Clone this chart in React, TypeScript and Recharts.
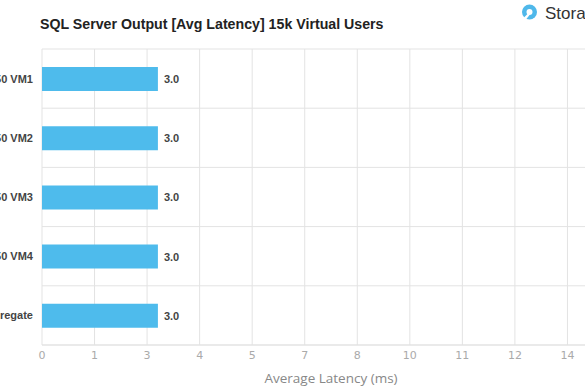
import React from "react";
import { BarChart, Bar, XAxis, YAxis, CartesianGrid, LabelList } from "recharts";

const categories = ["R750 VM1", "R750 VM2", "R750 VM3", "R750 VM4", "Aggregate"];
const latencyMs = [3.0, 3.0, 3.0, 3.0, 3.0];
const xTicks = [0, 1.36, 2.72, 4.08, 5.44, 6.8, 8.16, 9.52, 10.88, 12.24, 13.6, 14.96];
const titleText = "SQL Server Output [Avg Latency] 15k Virtual Users";
const axisTitle = "Average Latency (ms)";
const brandText = "StorageReview";

const data = categories.map((name, i) => ({ name, value: latencyMs[i] }));

const GRID = "#e3e3e3";
const BAR = "#4ebbec";

export default function App() {
  return (
    <div
      style={{
        position: "fixed",
        left: 0,
        top: 0,
        width: 585,
        height: 390,
        overflow: "hidden",
        background: "#ffffff",
      }}
    >
      <div style={{ position: "absolute", left: -60, top: 0 }}>
        <BarChart
          width={700}
          height={390}
          data={data}
          layout="vertical"
          margin={{ top: 49, right: 20, bottom: 0, left: 0 }}
          barSize={24}
        >
          <CartesianGrid
            stroke={GRID}
            strokeWidth={1}
            horizontalCoordinatesGenerator={({ offset }: any) =>
              categories
                .map((_, i) => offset.top + (i * offset.height) / categories.length)
                .concat([offset.top + offset.height])
            }
          />
          <XAxis
            type="number"
            domain={[0, xTicks[xTicks.length - 1]]}
            ticks={xTicks}
            tickFormatter={(v: number) => String(Math.round(v))}
            tickLine={false}
            axisLine={{ stroke: GRID }}
            tickMargin={0}
            height={45}
            interval={0}
            tick={{ fill: "#aaaaaa", fontSize: 11, fontFamily: "DejaVu Sans" }}
            label={{
              value: axisTitle,
              position: "insideBottom",
              offset: 7,
              fill: "#888888",
              fontSize: 13.5,
              fontFamily: "Open Sans",
            }}
          />
          <YAxis
            type="category"
            dataKey="name"
            width={102}
            axisLine={false}
            tickLine={false}
            tickMargin={3}
            tick={{ fill: "#444444", fontSize: 11, fontWeight: "bold", fontFamily: "Liberation Sans" }}
          />
          <Bar dataKey="value" fill={BAR} isAnimationActive={false}>
            <LabelList
              dataKey="value"
              position="right"
              offset={6}
              formatter={(v: any) => Number(v).toFixed(1)}
              fill="#444444"
              fontSize={11}
              fontWeight="bold"
              fontFamily="Liberation Sans"
            />
          </Bar>
        </BarChart>
      </div>
      <svg
        width={585}
        height={390}
        style={{ position: "absolute", left: 0, top: 0, pointerEvents: "none" }}
      >
        <text
          x={40}
          y={29}
          fontFamily="Liberation Sans"
          fontWeight="bold"
          fontSize={14.2}
          fill="#222222"
        >
          {titleText}
        </text>
        <circle cx={529.5} cy={12} r={7.5} fill="#4fb8ea" />
        <circle cx={529.5} cy={12} r={3} fill="#ffffff" />
        <path d="M529.5 12 L522 19.5 L526 19.5 L529.5 15 Z" fill="#ffffff" />
        <text x={545} y={18.5} fontFamily="Liberation Sans" fontSize={17} fill="#333333">
          {brandText}
        </text>
      </svg>
    </div>
  );
}
